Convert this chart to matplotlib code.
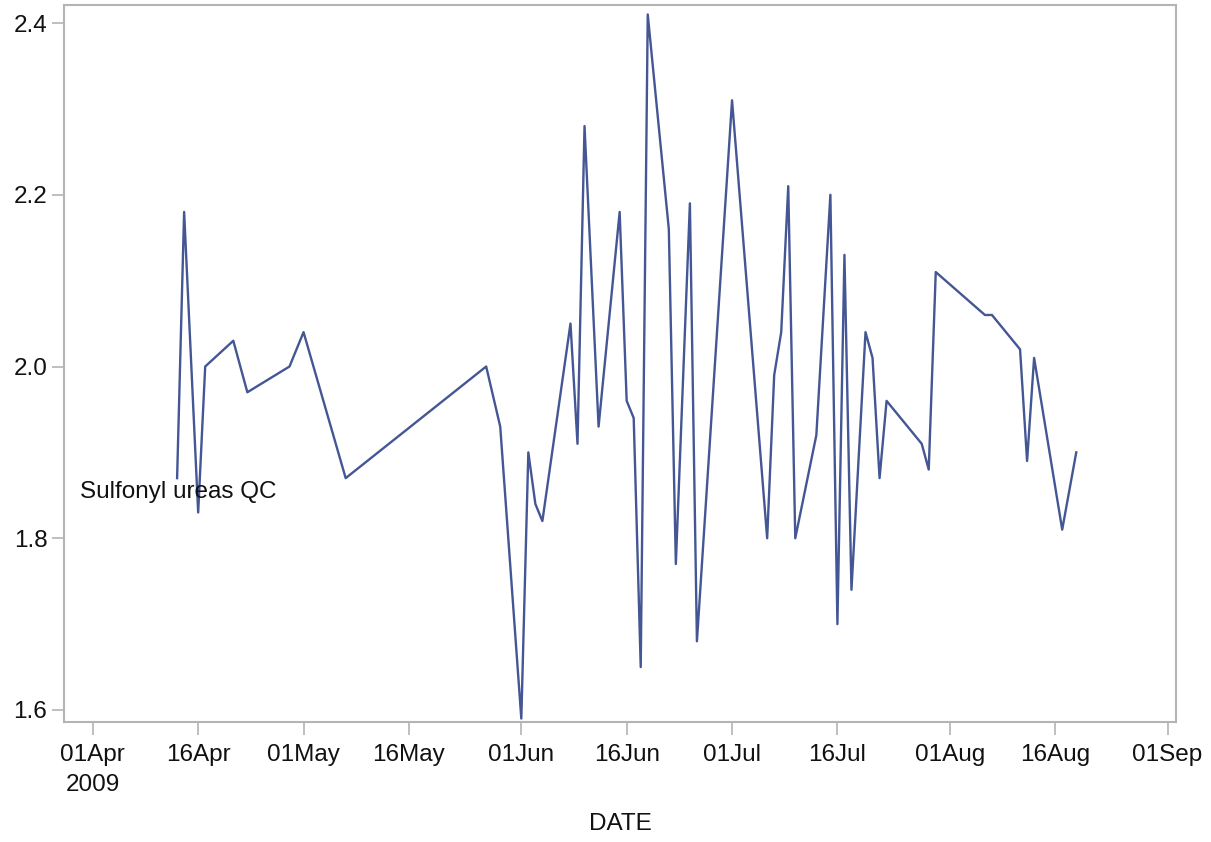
import matplotlib
matplotlib.use("Agg")
import matplotlib.pyplot as plt
import pandas as pd

plt.rcParams['font.family'] = ['Liberation Sans', 'DejaVu Sans']

# Data: day offset from 01Apr2009 and measured value
day_offsets = [12, 13, 15, 16, 20, 22, 28, 30, 36, 56, 58, 61, 62, 63, 64,
               68, 69, 70, 72, 75, 76, 77, 78, 79, 82, 83, 85, 86, 91, 96,
               97, 98, 99, 100, 103, 105, 106, 107, 108, 110, 111, 112, 113,
               118, 119, 120, 127, 128, 132, 133, 134, 138, 140]
values = [1.87, 2.18, 1.83, 2.00, 2.03, 1.97, 2.00, 2.04, 1.87, 2.00, 1.93,
          1.59, 1.90, 1.84, 1.82, 2.05, 1.91, 2.28, 1.93, 2.18, 1.96, 1.94,
          1.65, 2.41, 2.16, 1.77, 2.19, 1.68, 2.31, 1.80, 1.99, 2.04, 2.21,
          1.80, 1.92, 2.20, 1.70, 2.13, 1.74, 2.04, 2.01, 1.87, 1.96, 1.91,
          1.88, 2.11, 2.06, 2.06, 2.02, 1.89, 2.01, 1.81, 1.90]
tick_dates = ['2009-04-01', '2009-04-16', '2009-05-01', '2009-05-16',
              '2009-06-01', '2009-06-16', '2009-07-01', '2009-07-16',
              '2009-08-01', '2009-08-16', '2009-09-01']
tick_labels = ['01Apr\n2009', '16Apr', '01May', '16May', '01Jun', '16Jun',
               '01Jul', '16Jul', '01Aug', '16Aug', '01Sep']
y_ticks = [1.6, 1.8, 2.0, 2.2, 2.4]
series_label = 'Sulfonyl ureas QC'

start = pd.Timestamp('2009-04-01')
dates = [start + pd.Timedelta(days=d) for d in day_offsets]

W, H = 1211, 842
fig = plt.figure(figsize=(W / 100, H / 100), dpi=100)
ax = fig.add_axes([64 / W, 1 - 722 / H, (1176 - 64) / W, (722 - 5) / H])

line_color = '#445694'
frame_color = '#b4b4b4'
text_color = '#111111'
fs = 17.5

ax.plot(dates, values, color=line_color, linewidth=1.7)

ax.set_xlim(start - pd.Timedelta(days=4.1), pd.Timestamp('2009-09-01') + pd.Timedelta(days=1.2))
ax.set_ylim(1.586, 2.421)

ax.set_xticks([pd.Timestamp(t) for t in tick_dates])
ax.set_xticklabels(tick_labels, fontsize=fs, linespacing=1.45)
ax.set_yticks(y_ticks)
ax.set_yticklabels([f'{v:.1f}' for v in y_ticks], fontsize=fs)

for sp in ax.spines.values():
    sp.set_color(frame_color)
    sp.set_linewidth(1.5)
ax.tick_params(axis='both', direction='out', length=9, width=1.2, color=frame_color,
               labelcolor=text_color)
ax.tick_params(axis='x', pad=7)
ax.tick_params(axis='y', pad=3)

ax.set_xlabel('DATE', fontsize=fs, labelpad=12, color=text_color)

ax.text(start - pd.Timedelta(days=1.85), 1.854, series_label, fontsize=fs,
        ha='left', va='center', color=text_color)

fig.savefig('out.png', dpi=100)
